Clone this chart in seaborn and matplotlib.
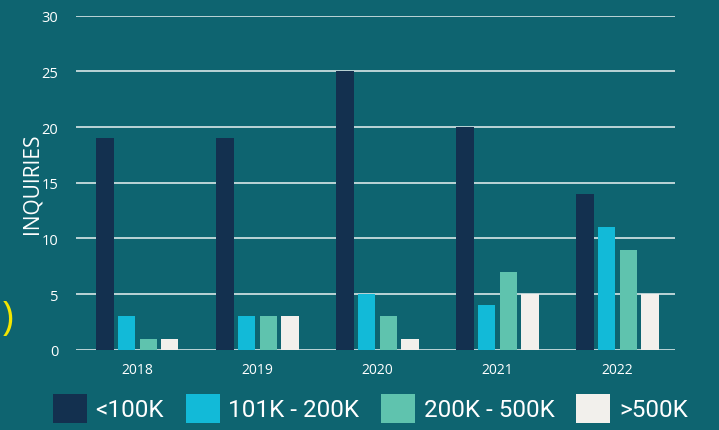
import matplotlib
matplotlib.use("Agg")
import matplotlib.pyplot as plt
import seaborn as sns
import pandas as pd

years = ["2018", "2019", "2020", "2021", "2022"]
ranges = ["<100K", "101K - 200K", "200K - 500K", ">500K"]
v_lt100 = [19, 19, 25, 20, 14]
v_101_200 = [3, 3, 5, 4, 11]
v_200_500 = [1, 3, 3, 7, 9]
v_gt500 = [1, 3, 1, 5, 5]
colors = ["#13304F", "#12BAD8", "#5FC3AE", "#F2F0EC"]

rows = []
for series, vals in zip(ranges, [v_lt100, v_101_200, v_200_500, v_gt500]):
    for y, v in zip(years, vals):
        rows.append({"Year": y, "Range": series, "Inquiries": v})
df = pd.DataFrame(rows)

bg = "#0E6470"
sns.set_theme(style="white")
plt.rcParams["font.family"] = ["Open Sans", "DejaVu Sans"]

fig = plt.figure(figsize=(7.19, 4.31), dpi=100, facecolor=bg)
ax = fig.add_axes([0.106, 0.186, 0.833, 0.775], facecolor=bg)

sns.barplot(data=df, x="Year", y="Inquiries", hue="Range", order=years,
            hue_order=ranges, palette=colors, width=0.72, gap=0.2,
            saturation=1, ax=ax, legend=True, linewidth=0, edgecolor="none")

ax.set_ylim(0, 30)
ax.set_xlim(-0.51, 4.48)
ax.set_yticks([0, 5, 10, 15, 20, 25, 30])
ax.yaxis.grid(True, color="#EAF2F2", linewidth=1.1)
ax.set_axisbelow(True)
for s in ax.spines.values():
    s.set_visible(False)
ax.tick_params(axis="y", colors="white", labelsize=10.5, length=0, pad=13)
ax.tick_params(axis="x", colors="white", labelsize=10, length=0, pad=9)
ax.set_xlabel("")
ax.set_ylabel("INQUIRIES", color="white", fontsize=15)
ax.yaxis.set_label_coords(-0.056, 0.5)

leg = ax.get_legend()
leg.remove()
handles, labels = ax.get_legend_handles_labels()
fig.legend(handles, labels, loc="lower center", bbox_to_anchor=(0.515, -0.035),
           ncol=4, frameon=False, handlelength=1.4,
           handleheight=1.5, handletextpad=0.35, columnspacing=0.9,
           prop={"family": "Roboto", "size": 17.5}, labelcolor="white")

fig.text(0.002, 0.21, ")", color="#F2E600", fontsize=29, ha="left", va="bottom")

fig.savefig("out.png", dpi=100, facecolor=bg)
